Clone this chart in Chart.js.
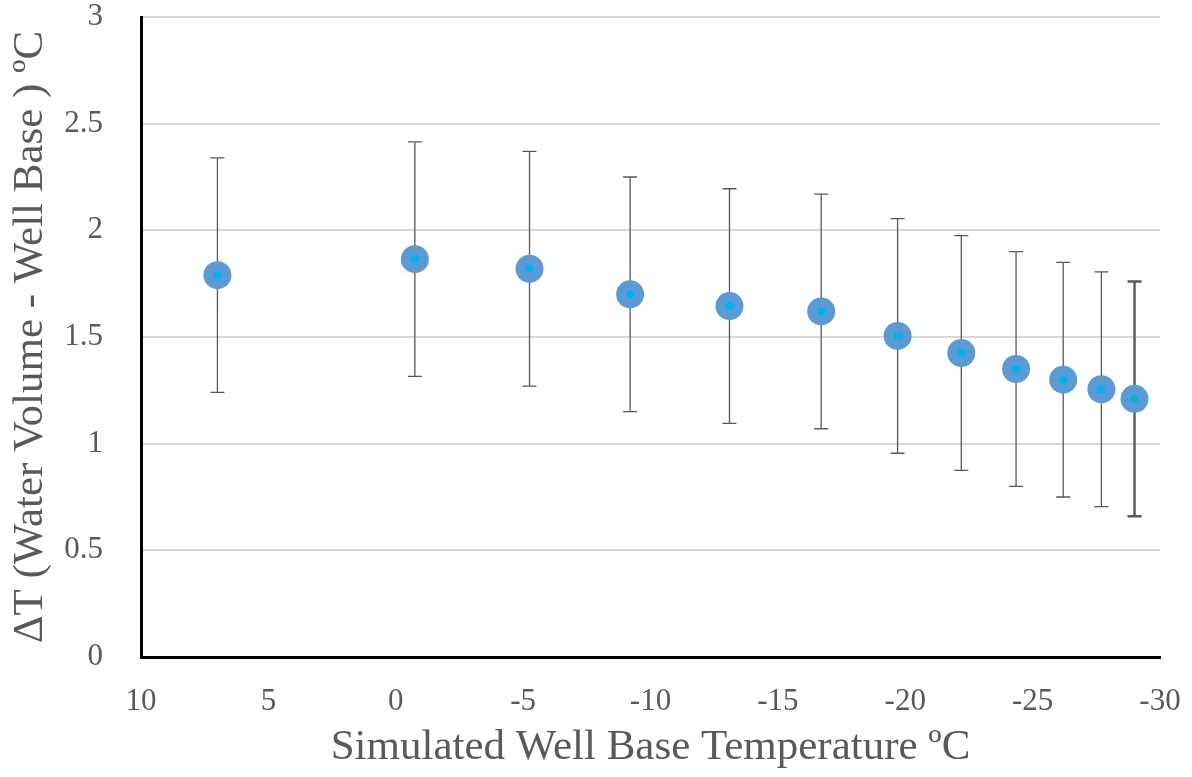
<!DOCTYPE html>
<html><head><meta charset="utf-8">
<script src="https://cdn.jsdelivr.net/npm/chart.js@4"></script>
<style>html,body{margin:0;padding:0;background:#fff}#w{width:1192px;height:777px}</style>
</head><body><div id="w"><canvas id="c" width="1192" height="777"></canvas></div>
<script>
const xValues = [7.0, -0.75, -5.25, -9.2, -13.1, -16.7, -19.7, -22.2, -24.35, -26.2, -27.7, -29.0];
const yValues = [1.79, 1.865, 1.82, 1.70, 1.645, 1.62, 1.505, 1.425, 1.35, 1.30, 1.255, 1.21];
const yErrors = [0.55, 0.55, 0.55, 0.55, 0.55, 0.55, 0.55, 0.55, 0.55, 0.55, 0.55, 0.55];
const xTitle = 'Simulated Well Base Temperature ºC';
const yTitle = 'ΔT (Water Volume - Well Base ) ºC';

const FONT = 'Liberation Serif';
const TXT = '#595959';

const errPlugin = {
  id: 'errbars',
  beforeDatasetsDraw(chart) {
    const ctx = chart.ctx, xs = chart.scales.x, ys = chart.scales.y;
    ctx.save();
    ctx.strokeStyle = '#595959';
    xValues.forEach((xv, i) => {
      const px = xs.getPixelForValue(xv);
      const top = ys.getPixelForValue(yValues[i] + yErrors[i]);
      const bot = ys.getPixelForValue(yValues[i] - yErrors[i]);
      ctx.lineWidth = i === xValues.length - 1 ? 2.4 : 1.3;
      ctx.beginPath();
      ctx.moveTo(px, top); ctx.lineTo(px, bot);
      ctx.moveTo(px - 7, top); ctx.lineTo(px + 7, top);
      ctx.moveTo(px - 7, bot); ctx.lineTo(px + 7, bot);
      ctx.stroke();
    });
    ctx.restore();
  },
  afterDatasetsDraw(chart) {
    const ctx = chart.ctx, xs = chart.scales.x, ys = chart.scales.y;
    ctx.save();
    ctx.fillStyle = '#00B0F0';
    xValues.forEach((xv, i) => {
      ctx.beginPath();
      ctx.arc(xs.getPixelForValue(xv), ys.getPixelForValue(yValues[i]), 4, 0, Math.PI * 2);
      ctx.fill();
    });
    ctx.restore();
  }
};

new Chart(document.getElementById('c'), {
  type: 'scatter',
  data: {
    datasets: [{
      data: xValues.map((x, i) => ({x, y: yValues[i]})),
      backgroundColor: '#5B9BD5',
      borderColor: '#5B9BD5',
      pointRadius: 14,
      pointBorderWidth: 0,
      pointHoverRadius: 14
    }]
  },
  options: {
    responsive: false,
    animation: false,
    events: [],
    layout: { padding: { left: 0, right: 32, top: 17, bottom: 0 } },
    plugins: { legend: { display: false }, tooltip: { enabled: false } },
    scales: {
      x: {
        type: 'linear', min: -30, max: 10, reverse: true,
        ticks: { stepSize: 5, color: TXT, font: { family: FONT, size: 31 }, padding: 26, maxRotation: 0, callback: v => String(v) },
        grid: { display: false, drawTicks: false },
        border: { display: true, color: '#000', width: 3 },
        title: { display: true, text: xTitle, color: TXT, font: { family: FONT, size: 43 }, padding: { top: 0, bottom: 3 } },
        afterFit(s) { s.height = 120; s.paddingLeft = 0; s.paddingRight = 0; }
      },
      y: {
        type: 'linear', min: 0, max: 3,
        ticks: { stepSize: 0.5, color: TXT, font: { family: FONT, size: 31 }, padding: 38, callback: v => String(v) },
        grid: { color: '#D9D9D9', lineWidth: 2, drawTicks: false },
        border: { display: true, color: '#000', width: 3 },
        title: { display: true, text: yTitle, color: TXT, font: { family: FONT, size: 43 }, padding: { top: 5, bottom: 0 } },
        afterFit(s) { s.width = 141; s.paddingTop = 0; s.paddingBottom = 0; }
      }
    }
  },
  plugins: [errPlugin]
});
</script></body></html>
